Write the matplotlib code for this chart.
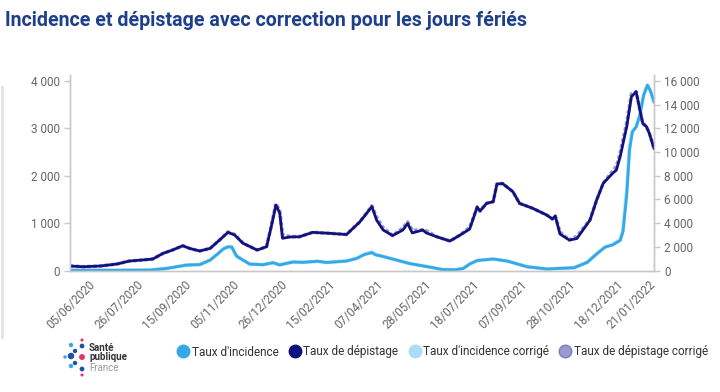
import matplotlib
matplotlib.use("Agg")
import matplotlib.pyplot as plt
from matplotlib.lines import Line2D
import pandas as pd

plt.rcParams['font.family'] = ['Roboto', 'DejaVu Sans']

# taux de depistage (axe droit)
dep_dates = ["2020-05-16", "2020-05-30", "2020-06-17", "2020-07-05", "2020-07-18", "2020-08-01",
             "2020-08-12", "2020-08-23", "2020-09-02", "2020-09-13", "2020-09-20", "2020-10-01",
             "2020-10-12", "2020-10-22", "2020-10-31", "2020-11-07", "2020-11-16", "2020-12-01",
             "2020-12-11", "2020-12-16", "2020-12-21", "2020-12-25", "2020-12-28", "2021-01-05",
             "2021-01-15", "2021-01-29", "2021-02-16", "2021-03-06", "2021-03-20", "2021-03-26",
             "2021-04-02", "2021-04-07", "2021-04-14", "2021-04-24", "2021-05-05", "2021-05-10",
             "2021-05-15", "2021-05-26", "2021-05-30", "2021-06-10", "2021-06-24", "2021-07-05",
             "2021-07-15", "2021-07-23", "2021-07-26", "2021-08-02", "2021-08-09", "2021-08-13",
             "2021-08-19", "2021-08-30", "2021-09-06", "2021-09-20", "2021-10-05", "2021-10-11",
             "2021-10-14", "2021-10-19", "2021-10-29", "2021-11-06", "2021-11-20", "2021-11-27",
             "2021-12-04", "2021-12-14", "2021-12-18", "2021-12-22", "2021-12-29", "2022-01-03",
             "2022-01-08", "2022-01-12", "2022-01-15", "2022-01-19", "2022-01-22", "2022-01-27"]
depistage = [380, 320, 380, 550, 800, 890,
             970, 1450, 1730, 2090, 1870, 1650,
             1870, 2570, 3220, 3000, 2300, 1730,
             2010, 3700, 5530, 4850, 2720, 2830,
             2850, 3220, 3140, 3040, 4090, 4680,
             5400, 4260, 3420, 2950, 3420, 3980,
             3170, 3420, 3170, 2850, 2490, 3000,
             3500, 5360, 5020, 5670, 5810, 7300,
             7340, 6650, 5670, 5250, 4680, 4350,
             4600, 3080, 2570, 2700, 4260, 5950,
             7360, 8200, 8480, 9600, 12140, 14670,
             15090, 13550, 12420, 12140, 11580, 10310]
depistage_corr = [380, 320, 380, 550, 800, 890,
                  970, 1450, 1730, 2090, 1870, 1650,
                  1870, 2570, 3260, 3050, 2300, 1730,
                  2010, 3750, 5650, 5050, 3000, 2880,
                  2850, 3220, 3140, 3040, 4090, 4720,
                  5450, 4500, 3600, 2950, 3600, 4100,
                  3400, 3420, 3350, 2850, 2490, 3000,
                  3650, 5360, 5020, 5670, 5810, 7300,
                  7340, 6650, 5670, 5250, 4680, 4350,
                  4600, 3250, 2570, 2900, 4300, 5950,
                  7360, 8400, 8800, 9900, 12500, 14900,
                  15090, 13550, 12420, 12140, 11580, 10310]

# taux d'incidence (axe gauche)
inc_dates = ["2020-05-16", "2020-07-05", "2020-08-09", "2020-08-27", "2020-09-17", "2020-10-01",
             "2020-10-12", "2020-10-20", "2020-10-26", "2020-10-31", "2020-11-04", "2020-11-09",
             "2020-11-16", "2020-11-23", "2020-12-07", "2020-12-18", "2020-12-25", "2021-01-08",
             "2021-01-19", "2021-02-03", "2021-02-13", "2021-03-06", "2021-03-17", "2021-03-25",
             "2021-04-02", "2021-04-06", "2021-04-10", "2021-04-24", "2021-05-12", "2021-06-02",
             "2021-06-16", "2021-06-29", "2021-07-08", "2021-07-15", "2021-07-23", "2021-08-09",
             "2021-08-24", "2021-09-14", "2021-10-05", "2021-11-03", "2021-11-17", "2021-11-27",
             "2021-12-06", "2021-12-14", "2021-12-22", "2021-12-25", "2021-12-29", "2022-01-01",
             "2022-01-04", "2022-01-08", "2022-01-12", "2022-01-16", "2022-01-20", "2022-01-23",
             "2022-01-27"]
incidence = [5, 5, 10, 45, 115, 125,
             220, 350, 455, 500, 495, 305,
             220, 137, 122, 165, 116, 180,
             173, 195, 170, 200, 257, 338,
             375, 327, 315, 243, 148, 74,
             21, 15, 42, 137, 211, 243,
             200, 80, 32, 59, 173, 350,
             495, 540, 633, 812, 1590, 2540,
             2920, 3030, 3280, 3700, 3910, 3800,
             3560]
incidence_corr = [5, 5, 10, 45, 115, 125,
                  220, 350, 455, 500, 500, 310,
                  220, 137, 122, 165, 125, 180,
                  173, 195, 170, 200, 257, 340,
                  390, 345, 320, 243, 148, 74,
                  21, 15, 42, 137, 211, 243,
                  200, 80, 32, 59, 173, 350,
                  495, 545, 650, 860, 1700, 2620,
                  2950, 3030, 3280, 3700, 3910, 3800,
                  3560]

tick_dates = ["2020-06-05", "2020-07-26", "2020-09-15", "2020-11-05", "2020-12-26", "2021-02-15",
              "2021-04-07", "2021-05-28", "2021-07-18", "2021-09-07", "2021-10-28", "2021-12-18",
              "2022-01-21"]
left_ticks = [0, 1000, 2000, 3000, 4000]
right_ticks = [0, 2000, 4000, 6000, 8000, 10000, 12000, 14000, 16000]

legend_labels = ["Taux d'incidence", "Taux de dépistage", "Taux d'incidence corrigé", "Taux de dépistage corrigé"]

c_inc = "#33a9e8"
c_dep = "#12127e"
c_inc_corr = "#aadcf6"
c_dep_corr = "#9a9ad0"
grey = "#c8c8c8"
txt = "#666666"

fig = plt.figure(figsize=(7.2, 3.92), dpi=100)
ax = fig.add_axes([70/720, 1-271/392, 584/720, 196/392])
ax2 = ax.twinx()

dd = pd.to_datetime(dep_dates)
di = pd.to_datetime(inc_dates)

ax.plot(di, incidence_corr, color=c_inc_corr, lw=2.6, zorder=1)
ax.plot(di, incidence, color=c_inc, lw=2.0, zorder=2)
ax2.plot(dd, depistage_corr, color=c_dep_corr, lw=2.6, ls=(0, (1, 0.6)), zorder=1)
ax2.plot(dd, depistage, color=c_dep, lw=2.0, zorder=2)

ax.set_xlim(pd.Timestamp("2020-05-16"), pd.Timestamp("2022-01-27"))
ax.set_ylim(-10, 4125)
ax2.set_ylim(-40, 16500)

def fmt(v):
    return "{:,}".format(v).replace(",", " ")

ax.set_yticks(left_ticks)
ax.set_yticklabels([fmt(v) for v in left_ticks])
ax2.set_yticks(right_ticks)
ax2.set_yticklabels([fmt(v) for v in right_ticks])

xt = pd.to_datetime(tick_dates)
ax.set_xticks(xt)
ax.set_xticklabels([d.strftime("%d/%m/%Y") for d in xt], rotation=45, ha="right",
                   va="top", rotation_mode="anchor")

for a in (ax, ax2):
    a.spines["top"].set_visible(False)
    for s in ("left", "right", "bottom"):
        a.spines[s].set_color(grey)
        a.spines[s].set_linewidth(1.0)
    a.tick_params(axis="y", colors=grey, labelcolor=txt, labelsize=8.5, length=4, width=1)
ax.tick_params(axis="x", length=0, pad=5, labelcolor=txt, labelsize=8.5)
ax.set_facecolor("none")

fig.text(5/720, 1-20/392, "Incidence et dépistage avec correction pour les jours fériés",
         fontsize=14.1, fontweight="bold", color="#1d3f8c", va="center", ha="left")

# calque pour le logo et le liseré, en pixels
ov = fig.add_axes([0, 0, 1, 1])
ov.set_xlim(0, 720)
ov.set_ylim(392, 0)
ov.axis("off")
ov.plot([1.5, 1.5], [87, 337], color="#e2e2e2", lw=2)

logo_x = [65, 71, 71, 71, 75, 75, 82, 82, 82, 82, 82]
logo_y = [357, 345, 356, 366, 351, 363, 340, 346, 357, 369, 375]
logo_c = ["#33a9e8", "#33a9e8", "#1f4fa8", "#33a9e8", "#1f4fa8", "#1f4fa8",
          "#e8306a", "#1f4fa8", "#e8306a", "#1f4fa8", "#e8306a"]
logo_s = [6, 10, 22, 10, 10, 10, 5, 12, 18, 12, 5]
ov.scatter(logo_x, logo_y, s=logo_s, c=logo_c, linewidths=0)
ov.text(89, 348, "Santé", fontsize=7, fontweight="bold", color="#333333", va="center")
ov.text(89, 357.5, "publique", fontsize=7, fontweight="bold", color="#333333", va="center")
ov.text(89, 368, "France", fontsize=7, color="#999999", va="center")

# legende
handles = [
    Line2D([], [], ls="", marker="o", ms=9, color=c_inc),
    Line2D([], [], ls="", marker="o", ms=9, color=c_dep),
    Line2D([], [], ls="", marker="o", ms=9, color=c_inc_corr),
    Line2D([], [], ls="", marker="o", ms=9, color=c_dep_corr, markeredgecolor="#7c7cc0"),
]
fig.legend(handles, legend_labels, loc="center", bbox_to_anchor=(442/720, 1-352/392), ncol=4,
           frameon=False, fontsize=8.5, handletextpad=0.1, columnspacing=0.8, handlelength=1.2,
           labelcolor="#333333")

fig.savefig("out.png", dpi=100, facecolor="white")
